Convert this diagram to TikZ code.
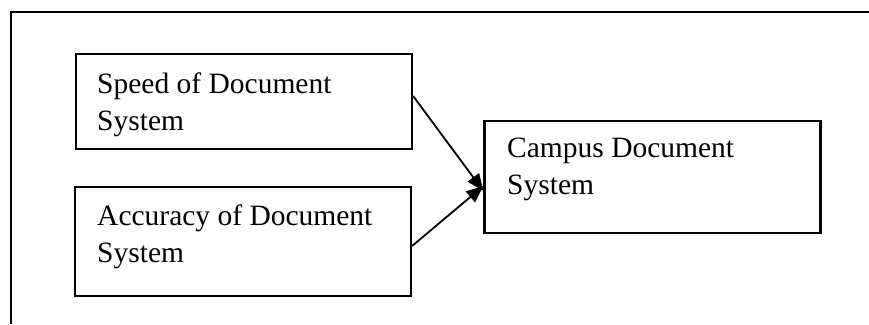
\documentclass[tikz,border=0pt]{standalone}
\usepackage{fontspec}
\setmainfont{Liberation Serif}
\usetikzlibrary{arrows.meta}

\tikzset{flow/.style={line width=1.8pt, -{Triangle[length=17pt,width=14pt]}}}

\begin{document}
\begin{tikzpicture}[x=1pt,y=-1pt]

        \useasboundingbox (0,0) rectangle (869,324);
        \coordinate (fbl) at (11,324);
        \coordinate (ftl) at (11,12);
        \coordinate (ftr) at (869,12);
        \draw[line width=2.4pt] (fbl) -- (ftl) -- (ftr);

        \begin{scope}[every node/.style={draw, line width=2.2pt, minimum width=336pt, inner sep=0pt}]
          \node[minimum height=95pt]  (spd) at (244,101.5) {};
          \node[minimum height=109pt] (acc) at (243,241.5) {};
          \node[minimum height=112pt] (cds) at (652.5,177) {};
        \end{scope}

        \begin{scope}[every node/.style={anchor=north west, align=left, inner sep=0pt,
                      font=\fontsize{29.5}{36.5}\selectfont}]
          \node (spdtxt) at (97,73)  {Speed of Document\\System};
          \node (acctxt) at (97,205) {Accuracy of Document\\System};
          \node (cdstxt) at (507,138) {Campus Document\\System};
        \end{scope}

        \coordinate (in1) at ([yshift=-14pt]cds.west);
        \coordinate (in2) at ([yshift=-9pt]cds.west);

        \draw[flow] ([yshift=5.5pt]spd.east) -- (in1);
        \draw[flow] ([yshift=-4.5pt]acc.east) -- (in2);

      \end{tikzpicture}
\end{document}
